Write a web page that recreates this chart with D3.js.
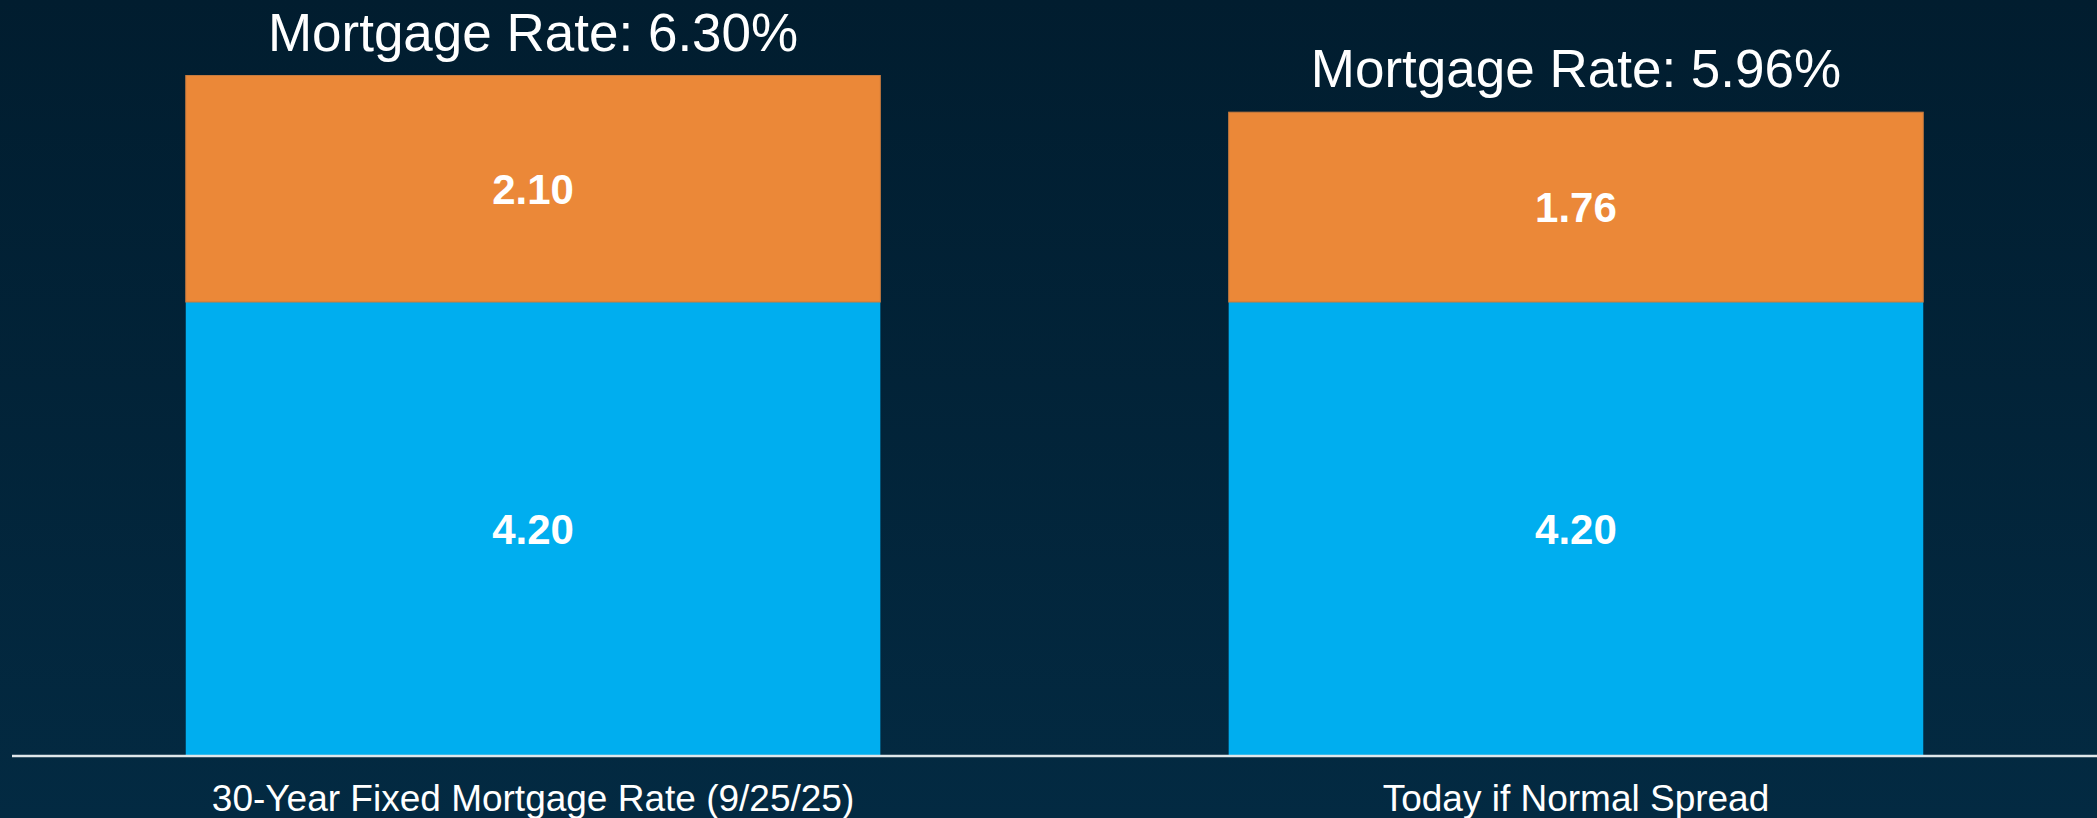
<!DOCTYPE html>
<html>
<head>
<meta charset="utf-8">
<script src="https://cdn.jsdelivr.net/npm/d3@7"></script>
<style>
  html, body { margin: 0; padding: 0; background: #02243a; }
  svg { display: block; }
</style>
</head>
<body>
<svg id="chart" width="2097" height="818"></svg>
<script>
const categories = ["30-Year Fixed Mortgage Rate (9/25/25)", "Today if Normal Spread"];
const treasuryValues = [4.20, 4.20];
const spreadValues = [2.10, 1.76];
const totalLabels = ["Mortgage Rate: 6.30%", "Mortgage Rate: 5.96%"];

const W = 2097, H = 818;
const svg = d3.select("#chart");
const font = "'Liberation Sans', Arial, Helvetica, sans-serif";

const defs = svg.append("defs");
const grad = defs.append("linearGradient").attr("id", "bg").attr("x1", 0).attr("y1", 0).attr("x2", 0).attr("y2", 1);
grad.append("stop").attr("offset", "0%").attr("stop-color", "#011d2f");
grad.append("stop").attr("offset", "100%").attr("stop-color", "#032a42");
svg.append("rect").attr("width", W).attr("height", H).attr("fill", "url(#bg)");

const x = d3.scaleBand().domain(categories).range([12, W]).paddingInner(0.334).paddingOuter(0.1666);
const y = d3.scaleLinear().domain([0, 7]).range([755, 0]);

const data = categories.map((c, i) => ({ cat: c, base: treasuryValues[i], spread: spreadValues[i], label: totalLabels[i] }));

// blue segments
svg.selectAll("rect.base").data(data).join("rect")
  .attr("class", "base")
  .attr("x", d => x(d.cat))
  .attr("width", x.bandwidth())
  .attr("y", d => y(d.base))
  .attr("height", d => y(0) - y(d.base))
  .attr("fill", "#00aeef");

// orange segments
svg.selectAll("rect.spread").data(data).join("rect")
  .attr("class", "spread")
  .attr("x", d => x(d.cat))
  .attr("width", x.bandwidth())
  .attr("y", d => y(d.base + d.spread))
  .attr("height", d => y(d.base) - y(d.base + d.spread))
  .attr("fill", "#eb8838")
  .attr("stroke", "#c57a3f")
  .attr("stroke-width", 1);

// segment value labels
const segFont = 42;
svg.selectAll("text.baseLbl").data(data).join("text")
  .attr("class", "baseLbl")
  .attr("x", d => x(d.cat) + x.bandwidth() / 2)
  .attr("y", d => (y(0) + y(d.base)) / 2 + segFont * 0.36)
  .attr("text-anchor", "middle")
  .attr("font-family", font).attr("font-weight", "bold").attr("font-size", segFont)
  .attr("fill", "#ffffff")
  .text(d => d.base.toFixed(2));

svg.selectAll("text.spreadLbl").data(data).join("text")
  .attr("class", "spreadLbl")
  .attr("x", d => x(d.cat) + x.bandwidth() / 2)
  .attr("y", d => (y(d.base) + y(d.base + d.spread)) / 2 + segFont * 0.36)
  .attr("text-anchor", "middle")
  .attr("font-family", font).attr("font-weight", "bold").attr("font-size", segFont)
  .attr("fill", "#ffffff")
  .text(d => d.spread.toFixed(2));

// total labels
svg.selectAll("text.total").data(data).join("text")
  .attr("class", "total")
  .attr("x", d => x(d.cat) + x.bandwidth() / 2)
  .attr("y", d => y(d.base + d.spread) - 25)
  .attr("text-anchor", "middle")
  .attr("font-family", font).attr("font-size", 53)
  .attr("fill", "#ffffff")
  .text(d => d.label);

// axis
const axisG = svg.append("g").attr("transform", `translate(0,${y(0)})`)
  .call(d3.axisBottom(x).tickSize(0));
axisG.select(".domain").remove();
axisG.selectAll("text")
  .attr("y", 56).attr("dy", 0)
  .attr("font-family", font).attr("font-size", 37)
  .attr("fill", "#ffffff");

svg.append("line")
  .attr("x1", 12).attr("x2", W)
  .attr("y1", y(0) + 1).attr("y2", y(0) + 1)
  .attr("stroke", "#dfe6ea").attr("stroke-width", 2.5);
</script>
</body>
</html>
